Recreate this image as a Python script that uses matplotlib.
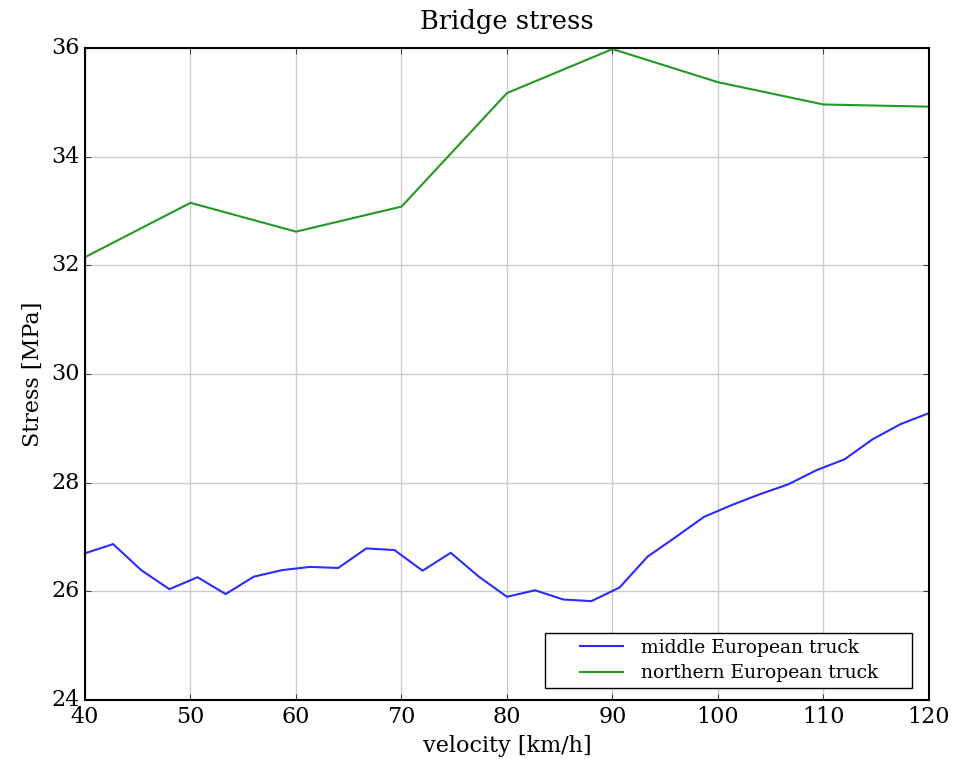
import matplotlib
matplotlib.use('Agg')
import matplotlib.pyplot as plt
from matplotlib.legend_handler import HandlerLine2D
import numpy as np

# velocities for the middle European truck (31 samples, 40..120 km/h)
v_middle = np.linspace(40, 120, 31)
stress_middle = [26.70, 26.87, 26.39, 26.04, 26.26, 25.95, 26.27, 26.39, 26.45, 26.43,
                 26.79, 26.76, 26.38, 26.71, 26.27, 25.90, 26.02, 25.85, 25.82, 26.07,
                 26.64, 27.00, 27.37, 27.59, 27.79, 27.97, 28.23, 28.43, 28.80, 29.08,
                 29.28]

v_north = [40, 50, 60, 70, 80, 90, 100, 110, 120]
stress_north = [32.15, 33.15, 32.62, 33.08, 35.17, 35.98, 35.37, 34.96, 34.92]


# legend line drawn only in the right part of a wide handle box
class RightLine(HandlerLine2D):
    def get_xdata(self, legend, xdescent, ydescent, width, height, fontsize):
        xdata = np.array([-xdescent + 0.39 * width, -xdescent + 0.96 * width])
        return xdata, xdata


plt.style.use('classic')
plt.rcParams['font.family'] = 'DejaVu Serif'

fig = plt.figure(figsize=(9.68, 7.59), dpi=100)
ax = fig.add_axes([0.0878, 0.0777, 0.8719, 0.8591])

l1, = ax.plot(v_middle, stress_middle, color='#2b2bff', lw=1.5, label='middle European truck')
l2, = ax.plot(v_north, stress_north, color='#229922', lw=1.5, label='northern European truck')

ax.set_xlim(40, 120)
ax.set_ylim(24, 36)
ax.set_xticks(range(40, 121, 10))
ax.set_yticks(range(24, 37, 2))
ax.tick_params(labelsize=16)
ax.grid(True, color='#cccccc', linestyle='-', linewidth=1)
ax.set_axisbelow(True)
for s in ax.spines.values():
    s.set_linewidth(1.5)

ax.set_title('Bridge stress', fontsize=18.5, pad=14)
ax.set_xlabel('velocity [km/h]', fontsize=16)
ax.set_ylabel('Stress [MPa]', fontsize=16)

leg = ax.legend(loc='lower left', bbox_to_anchor=(0.545, 0.0184, 0.435, 0), mode='expand',
                borderaxespad=0, fontsize=13.5, fancybox=False, borderpad=0.3,
                handlelength=4.0, handletextpad=0.8, labelspacing=0.4,
                handler_map={l1: RightLine(), l2: RightLine()})
leg.get_frame().set_edgecolor('black')

fig.savefig('out.png', dpi=100)
